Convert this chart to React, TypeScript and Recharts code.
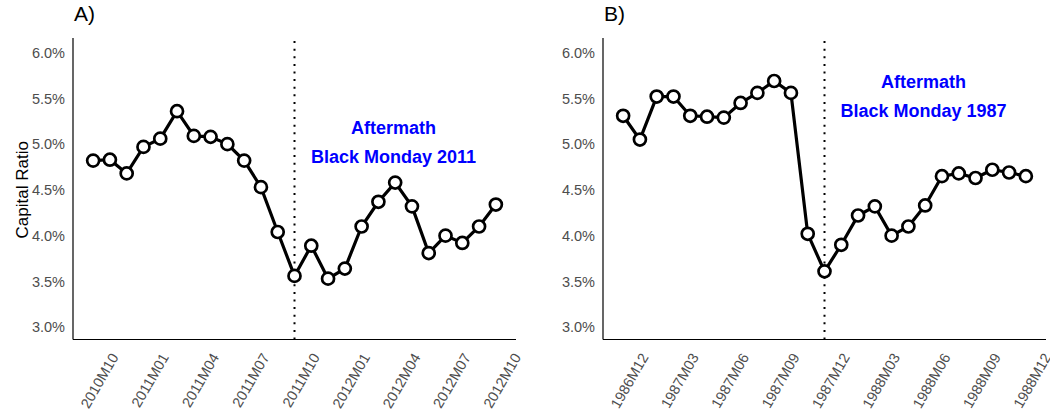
import React from 'react'
import {
  LineChart,
  Line,
  XAxis,
  YAxis,
  ReferenceLine,
  ReferenceDot,
} from 'recharts'

// ---- data ----------------------------------------------------------
const monthsA = [
  '2010M09', '2010M10', '2010M11', '2010M12', '2011M01', '2011M02', '2011M03',
  '2011M04', '2011M05', '2011M06', '2011M07', '2011M08', '2011M09', '2011M10',
  '2011M11', '2011M12', '2012M01', '2012M02', '2012M03', '2012M04', '2012M05',
  '2012M06', '2012M07', '2012M08', '2012M09',
]
const ratioA = [
  4.82, 4.83, 4.68, 4.97, 5.06, 5.36, 5.09, 5.08, 5.0, 4.82, 4.53, 4.04, 3.56,
  3.89, 3.53, 3.64, 4.1, 4.37, 4.58, 4.32, 3.81, 4.0, 3.92, 4.1, 4.34,
]
const tickLabelsA = ['2010M10', '2011M01', '2011M04', '2011M07', '2011M10', '2012M01', '2012M04', '2012M07', '2012M10']

const monthsB = [
  '1986M11', '1986M12', '1987M01', '1987M02', '1987M03', '1987M04', '1987M05',
  '1987M06', '1987M07', '1987M08', '1987M09', '1987M10', '1987M11', '1987M12',
  '1988M01', '1988M02', '1988M03', '1988M04', '1988M05', '1988M06', '1988M07',
  '1988M08', '1988M09', '1988M10', '1988M11',
]
const ratioB = [
  5.31, 5.05, 5.52, 5.52, 5.31, 5.3, 5.29, 5.45, 5.56, 5.69, 5.56, 4.02, 3.61,
  3.9, 4.22, 4.32, 4.0, 4.1, 4.33, 4.65, 4.68, 4.63, 4.72, 4.69, 4.65,
]
const tickLabelsB = ['1986M12', '1987M03', '1987M06', '1987M09', '1987M12', '1988M03', '1988M06', '1988M09', '1988M12']

const yTicks = [3, 3.5, 4, 4.5, 5, 5.5, 6]
const eventIndex = 12

// annotation anchor (data coords)
const noteA = { x: 17.9, y: 5.112, lines: ['Aftermath', 'Black Monday 2011'] }
const noteB = { x: 17.9, y: 5.614, lines: ['Aftermath', 'Black Monday 1987'] }

const FONT = '"Liberation Sans", Arial, Helvetica, sans-serif'
const GREY = '#4D4D4D'

const XTick = ({ x, y, payload, labels }: any) => {
  const idx = Math.round((payload.value - 1) / 3)
  const tx = x + 9
  const ty = y + 9.5
  return (
    <text x={tx} y={ty} transform={`rotate(-60 ${tx} ${ty})`} textAnchor="end" fill={GREY} fontSize={14.5} fontFamily={FONT}>
      {labels[idx]}
    </text>
  )
}

const Note = ({ cx, cy, lines }: any) => (
  <g>
    {lines.map((t: string, i: number) => (
      <text key={i} x={cx} y={cy + i * 29} textAnchor="middle" fill="#0000FF" fontSize={18} fontWeight="bold" fontFamily={FONT}>
        {t}
      </text>
    ))}
  </g>
)

function Panel({ months, values, tickLabels, note, title, yLabel }: any) {
  const data = months.map((m: string, i: number) => ({ i, month: m, v: values[i] }))
  const ticks = tickLabels.map((_: string, k: number) => 1 + 3 * k)
  return (
    <div style={{ position: 'relative', width: 530, height: 415 }}>
      <div style={{ position: 'absolute', left: 74, top: 1, fontSize: 21, fontFamily: FONT, color: '#000', lineHeight: '26px' }}>
        {title}
      </div>
      <LineChart width={530} height={415} data={data} margin={{ top: 38, right: 14, bottom: 15.5, left: 0 }}>
        <XAxis
          dataKey="i"
          type="number"
          domain={[-1.2, 25.2]}
          ticks={ticks}
          interval={0}
          height={60}
          tickLine={false}
          axisLine={{ stroke: '#000', strokeWidth: 1.2 }}
          tick={<XTick labels={tickLabels} />}
          allowDataOverflow
        />
        <YAxis
          type="number"
          domain={[2.865, 6.16]}
          ticks={yTicks}
          width={73}
          tickLine={false}
          axisLine={{ stroke: '#000', strokeWidth: 1.2 }}
          tick={{ fill: GREY, fontSize: 14.5, fontFamily: FONT }}
          tickFormatter={(v: number) => `${v.toFixed(1)}%`}
          allowDataOverflow
          label={
            yLabel
              ? {
                  content: ({ viewBox }: any) => {
                    const lx = viewBox.x + 28
                    const ly = viewBox.y + viewBox.height / 2 + 1
                    return (
                      <text x={lx} y={ly} transform={`rotate(-90 ${lx} ${ly})`} textAnchor="middle" fontSize={17} fill="#000" fontFamily={FONT}>
                        {yLabel}
                      </text>
                    )
                  },
                }
              : undefined
          }
        />
        <ReferenceLine x={eventIndex} stroke="#000" strokeWidth={2} strokeDasharray="2 5.6" />
        <ReferenceDot x={note.x} y={note.y} r={0} shape={(p: any) => <Note cx={p.cx} cy={p.cy} lines={note.lines} />} />
        <Line
          type="linear"
          dataKey="v"
          stroke="#000"
          strokeWidth={3.2}
          dot={{ r: 6, fill: '#fff', stroke: '#000', strokeWidth: 2.7 }}
          activeDot={false}
          isAnimationActive={false}
        />
      </LineChart>
    </div>
  )
}

export default function App() {
  return (
    <div style={{ position: 'absolute', left: 0, top: 0, width: 1050, height: 415, display: 'flex', background: '#fff' }}>
      <Panel months={monthsA} values={ratioA} tickLabels={tickLabelsA} note={noteA} title="A)" yLabel="Capital Ratio" />
      <Panel months={monthsB} values={ratioB} tickLabels={tickLabelsB} note={noteB} title="B)" />
    </div>
  )
}
